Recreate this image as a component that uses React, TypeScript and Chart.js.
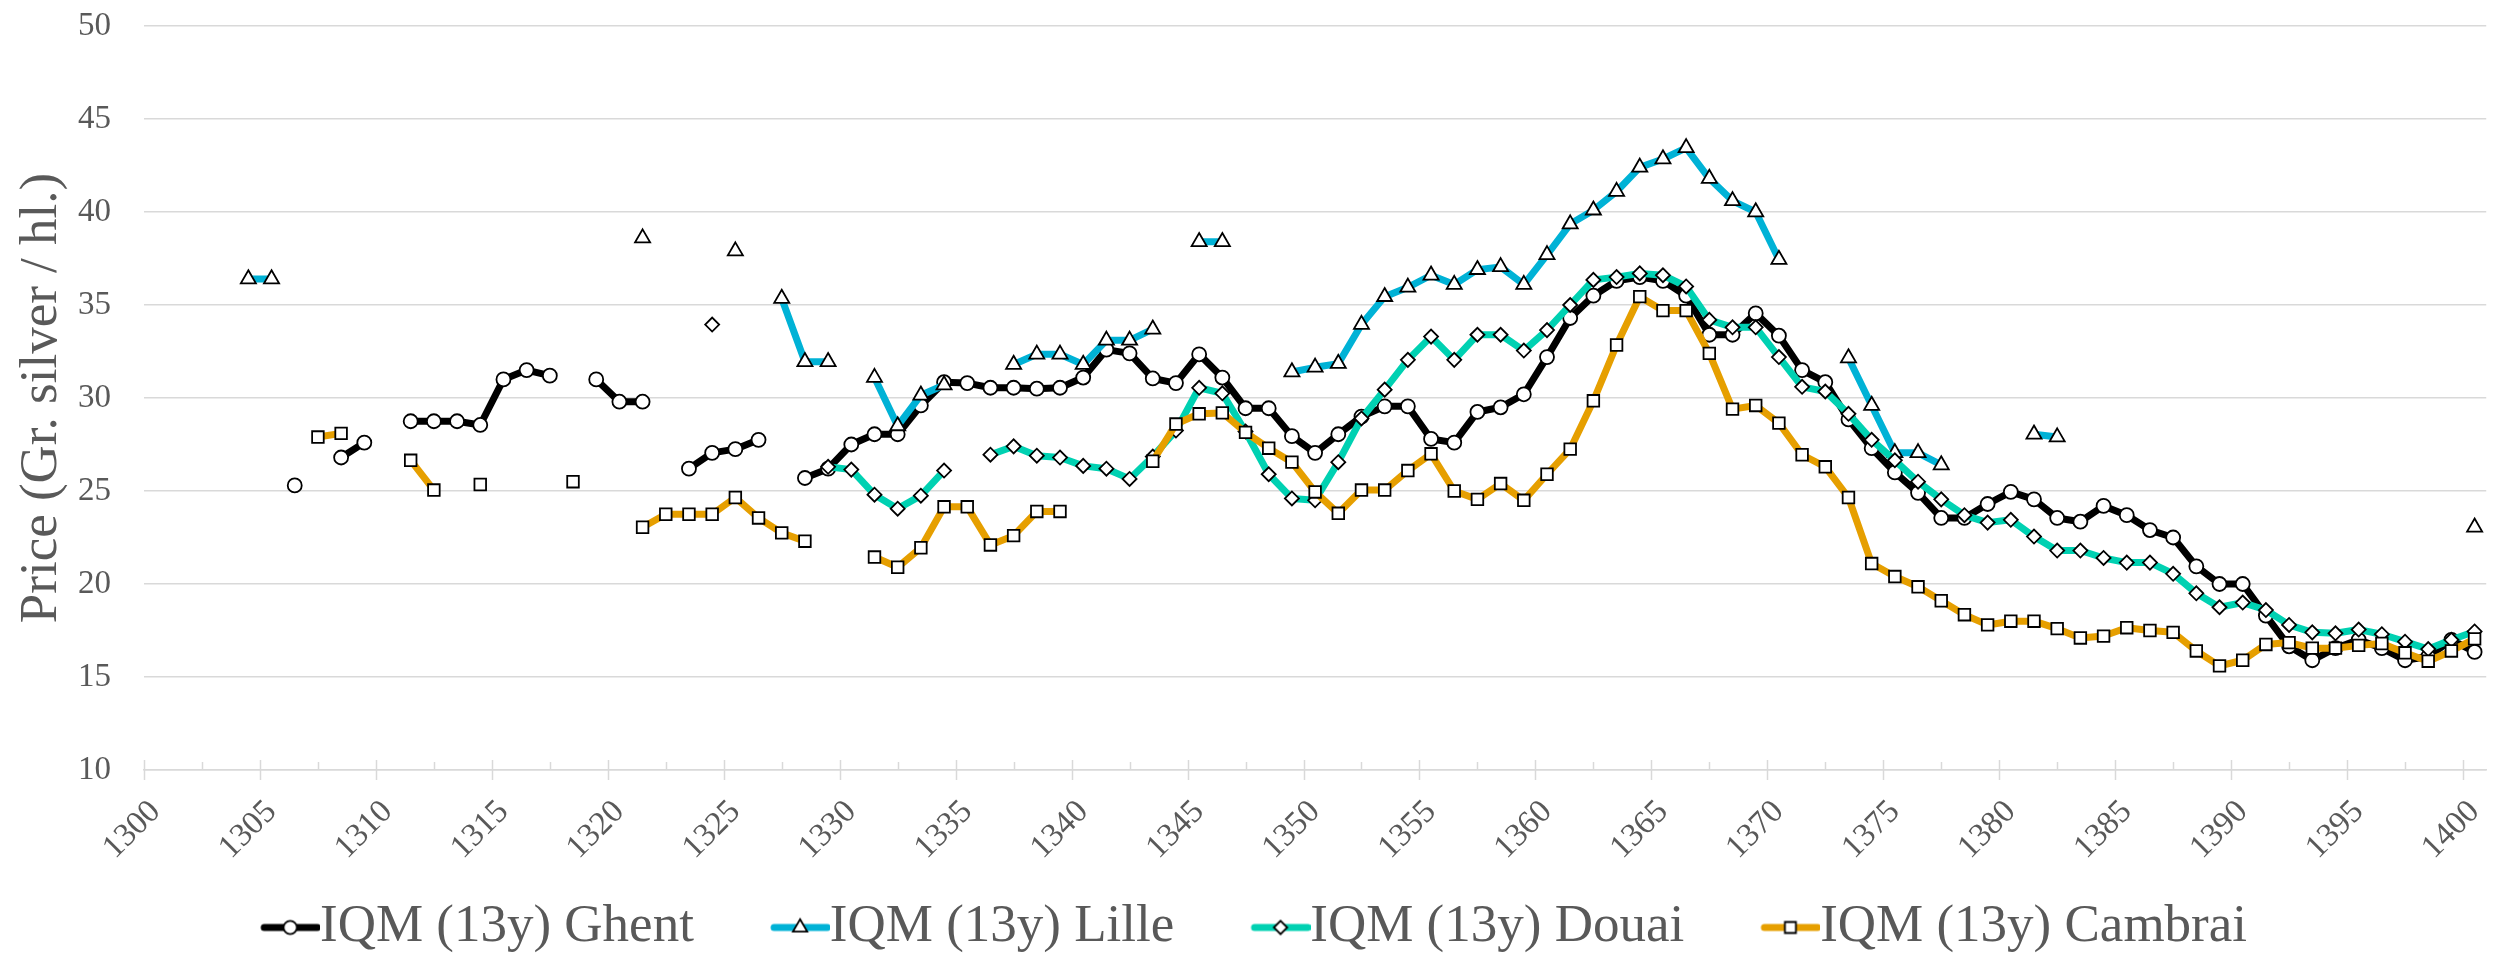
import React, { useEffect, useRef } from 'react';
import { Chart, registerables } from 'chart.js';

Chart.register(...registerables);

// ---------- data ----------
const FIRST_YEAR = 1300;
const LAST_YEAR = 1400;
const YEARS: string[] = [];
for (let y = FIRST_YEAR; y <= LAST_YEAR; y++) YEARS.push(String(y));

const Y_MIN = 10;
const Y_MAX = 50;
const Y_STEP = 5;
const Y_TITLE = 'Price (Gr. silver / hl.)';

const SERIES_NAMES = ['IQM (13y) Ghent', 'IQM (13y) Lille', 'IQM (13y) Douai', 'IQM (13y) Cambrai'];

// index 0 = 1300 ... index 100 = 1400
const GHENT: (number | null)[] = [
  null, null, null, null, null, null, 25.3, null, 26.8, 27.6,
  null, 28.75, 28.75, 28.75, 28.55, 31.0, 31.5, 31.2, null, 31.0,
  29.8, 29.8, null, 26.2, 27.05, 27.25, 27.75, null, 25.7, 26.2,
  27.5, 28.05, 28.05, 29.6, 30.85, 30.8, 30.55, 30.55, 30.5, 30.55,
  31.1, 32.6, 32.4, 31.05, 30.8, 32.35, 31.1, 29.45, 29.45, 27.95,
  27.05, 28.05, 29.0, 29.55, 29.55, 27.8, 27.6, 29.25, 29.5, 30.2,
  32.2, 34.3, 35.5, 36.3, 36.5, 36.3, 35.5, 33.4, 33.4, 34.55,
  33.35, 31.5, 30.85, 28.85, 27.3, 26.0, 24.9, 23.55, 23.55, 24.3,
  24.95, 24.55, 23.55, 23.35, 24.2, 23.7, 22.9, 22.5, 20.95, 20.0,
  20.0, 18.3, 16.65, 15.9, 16.55, 17.0, 16.55, 15.9, 16.1, 17.0,
  16.35,
];

const LILLE: (number | null)[] = [
  null, null, null, null, 36.4, 36.4, null, null, null, null,
  null, null, null, null, null, null, null, null, null, null,
  null, 38.6, null, null, null, 37.9, null, 35.35, 31.95, 31.95,
  null, 31.1, 28.5, 30.15, 30.7, null, null, 31.8, 32.35, 32.35,
  31.8, 33.1, 33.1, 33.7, null, 38.4, 38.4, null, null, 31.4,
  31.65, 31.85, 33.95, 35.45, 35.95, 36.6, 36.1, 36.9, 37.05, 36.1,
  37.7, 39.35, 40.1, 41.1, 42.4, 42.85, 43.45, 41.8, 40.6, 40.0,
  37.45, null, null, 32.15, 29.6, 27.05, 27.05, 26.4, null, null,
  null, 28.05, 27.9, null, null, null, null, null, null, null,
  null, null, null, null, null, null, null, null, null, null,
  23.05,
];

const DOUAI: (number | null)[] = [
  null, null, null, null, null, null, null, null, null, null,
  null, null, null, null, null, null, null, null, null, null,
  null, null, null, null, 33.95, null, null, null, null, 26.3,
  26.15, 24.8, 24.05, 24.75, 26.1, null, 26.95, 27.4, 26.9, 26.8,
  26.35, 26.2, 25.65, 26.85, 28.25, 30.55, 30.25, 28.2, 25.9, 24.6,
  24.5, 26.55, 28.9, 30.45, 32.05, 33.3, 32.05, 33.4, 33.4, 32.55,
  33.65, 35.0, 36.35, 36.5, 36.7, 36.6, 36.0, 34.2, 33.8, 33.8,
  32.2, 30.6, 30.35, 29.15, 27.75, 26.65, 25.5, 24.55, 23.7, 23.3,
  23.45, 22.55, 21.8, 21.8, 21.4, 21.15, 21.15, 20.55, 19.5, 18.75,
  19.0, 18.6, 17.8, 17.4, 17.35, 17.55, 17.3, 16.9, 16.5, 17.0,
  17.45,
];

const CAMBRAI: (number | null)[] = [
  null, null, null, null, null, null, null, 27.9, 28.1, null,
  null, 26.65, 25.05, null, 25.35, null, null, null, 25.5, null,
  null, 23.05, 23.75, 23.75, 23.75, 24.65, 23.55, 22.75, 22.3, null,
  null, 21.45, 20.9, 21.95, 24.15, 24.15, 22.1, 22.6, 23.9, 23.9,
  null, null, null, 26.6, 28.6, 29.15, 29.2, 28.15, 27.3, 26.55,
  24.95, 23.8, 25.05, 25.05, 26.1, 27.0, 25.0, 24.55, 25.4, 24.5,
  25.9, 27.25, 29.85, 32.85, 35.45, 34.7, 34.7, 32.4, 29.4, 29.6,
  28.65, 26.95, 26.3, 24.65, 21.1, 20.4, 19.85, 19.1, 18.35, 17.8,
  18.0, 18.0, 17.6, 17.1, 17.2, 17.65, 17.5, 17.4, 16.4, 15.6,
  15.9, 16.75, 16.85, 16.55, 16.55, 16.7, 16.8, 16.3, 15.85, 16.4,
  17.05,
];

// ---------- styles ----------
const FONT = "'Liberation Serif', 'Times New Roman', serif";
const TEXT_COLOR = '#595959';
const GRID_COLOR = '#d9d9d9';
const COLORS = ['#000000', '#00b2d6', '#00d1b2', '#e69f00'];
const MARKERS = ['circle', 'triangle', 'rectRot', 'rect'];
const MARKER_RADIUS = [7, 8.7, 7, 8.2];
const LINE_WIDTH = 7;

const LEGEND_BOX = 75.5;
const LEGEND_FONT = 53;

function drawMarker(ctx: CanvasRenderingContext2D, style: string, x: number, y: number, r: number) {
  ctx.beginPath();
  if (style === 'circle') {
    ctx.arc(x, y, r, 0, Math.PI * 2);
  } else if (style === 'triangle') {
    ctx.moveTo(x, y - r);
    ctx.lineTo(x + 0.866 * r, y + 0.5 * r);
    ctx.lineTo(x - 0.866 * r, y + 0.5 * r);
    ctx.closePath();
  } else if (style === 'rectRot') {
    ctx.moveTo(x - r, y);
    ctx.lineTo(x, y - r);
    ctx.lineTo(x + r, y);
    ctx.lineTo(x, y + r);
    ctx.closePath();
  } else {
    const h = r * Math.SQRT1_2;
    ctx.rect(x - h, y - h, 2 * h, 2 * h);
  }
  ctx.fillStyle = '#ffffff';
  ctx.fill();
  ctx.lineWidth = 1.8;
  ctx.strokeStyle = '#000000';
  ctx.stroke();
}

// icon is centred on the legend box centre; its right edge meets the text start
function makeIcon(color: string, style: string, r: number): HTMLCanvasElement {
  const W = Math.round(2 * (LEGEND_BOX / 2 + LEGEND_FONT / 2));
  const H = 26;
  const c = document.createElement('canvas');
  c.width = W;
  c.height = H;
  const ctx = c.getContext('2d') as CanvasRenderingContext2D;
  const cy = H / 2;
  const x1 = W - 60;
  ctx.strokeStyle = color;
  ctx.lineWidth = 7;
  ctx.lineCap = 'round';
  ctx.beginPath();
  ctx.moveTo(x1 + 4, cy);
  ctx.lineTo(W - 3, cy);
  ctx.stroke();
  drawMarker(ctx, style, x1 + 30, cy, r * 0.95);
  return c;
}

// Excel-style tick marks on the category axis (major crossing, minor inside)
const axisTicksPlugin = {
  id: 'excelAxisTicks',
  beforeDatasetsDraw(chart: any) {
    const xs = chart.scales.x;
    const ctx = chart.ctx as CanvasRenderingContext2D;
    const y0 = xs.top;
    const band = xs.getPixelForValue(1) - xs.getPixelForValue(0);
    ctx.save();
    ctx.strokeStyle = GRID_COLOR;
    ctx.lineWidth = 1.5;
    ctx.beginPath();
    for (let i = 0; i < YEARS.length; i += 5) {
      const x = Math.round(xs.getPixelForValue(i) - band / 2) + 0.5;
      ctx.moveTo(x, y0 - 10);
      ctx.lineTo(x, y0 + 10);
    }
    for (let i = 2; i < YEARS.length; i += 5) {
      const x = Math.round(xs.getPixelForValue(i)) + 0.5;
      ctx.moveTo(x, y0 - 8);
      ctx.lineTo(x, y0);
    }
    ctx.stroke();
    ctx.restore();
  },
};

export default function App() {
  const canvasRef = useRef<HTMLCanvasElement | null>(null);

  useEffect(() => {
    document.body.style.margin = '0';
    document.body.style.overflow = 'hidden';
    const canvas = canvasRef.current;
    if (!canvas) return;

    const seriesData = [GHENT, LILLE, DOUAI, CAMBRAI];
    const icons = SERIES_NAMES.map((_, i) => makeIcon(COLORS[i], MARKERS[i], MARKER_RADIUS[i]));

    const datasets = SERIES_NAMES.map((name, i) => ({
      label: name,
      data: seriesData[i],
      borderColor: COLORS[i],
      backgroundColor: COLORS[i],
      borderWidth: LINE_WIDTH,
      borderJoinStyle: 'round' as const,
      borderCapStyle: 'round' as const,
      pointStyle: MARKERS[i] as any,
      pointRadius: MARKER_RADIUS[i],
      pointBackgroundColor: '#ffffff',
      pointBorderColor: '#000000',
      pointBorderWidth: 1.8,
      spanGaps: false,
      tension: 0,
      order: SERIES_NAMES.length - i,
    }));

    const chart = new Chart(canvas, {
      type: 'line',
      data: { labels: YEARS, datasets },
      plugins: [axisTicksPlugin],
      options: {
        responsive: false,
        animation: false,
        events: [],
        layout: { padding: { left: -22, right: 11, top: 26, bottom: -8 } },
        plugins: {
          tooltip: { enabled: false },
          legend: {
            display: true,
            position: 'bottom',
            align: 'center',
            labels: {
              usePointStyle: true,
              pointStyleWidth: LEGEND_BOX,
              padding: 34,
              color: TEXT_COLOR,
              font: { family: FONT, size: LEGEND_FONT },
              generateLabels: () =>
                SERIES_NAMES.map((name, i) => ({
                  text: name,
                  pointStyle: icons[i] as any,
                  fillStyle: 'transparent',
                  strokeStyle: 'transparent',
                  lineWidth: 0,
                  fontColor: TEXT_COLOR,
                  hidden: false,
                  datasetIndex: i,
                })),
            },
          },
        },
        scales: {
          x: {
            type: 'category',
            offset: true,
            grid: {
              display: true,
              drawOnChartArea: false,
              drawTicks: true,
              tickLength: 25,
              color: 'rgba(0,0,0,0)',
              tickColor: 'rgba(0,0,0,0)',
              offset: true,
            },
            border: { display: true, color: GRID_COLOR, width: 1.5 },
            ticks: {
              autoSkip: false,
              minRotation: 45,
              maxRotation: 45,
              padding: 0,
              color: TEXT_COLOR,
              font: { family: FONT, size: 33, lineHeight: 1 },
              callback: function (this: any, value: any, index: number) {
                return index % 5 === 0 ? YEARS[index] : '';
              },
            },
            afterFit: (scale: any) => {
              scale.height = 97;
            },
          },
          y: {
            min: Y_MIN,
            max: Y_MAX,
            grid: {
              color: GRID_COLOR,
              lineWidth: 1.5,
              drawTicks: true,
              tickLength: 33,
              tickColor: 'rgba(0,0,0,0)',
            },
            border: { display: false },
            ticks: {
              stepSize: Y_STEP,
              padding: 0,
              color: TEXT_COLOR,
              font: { family: FONT, size: 33 },
            },
            title: {
              display: true,
              text: Y_TITLE,
              color: TEXT_COLOR,
              font: { family: FONT, size: 53 },
              padding: { top: 32, bottom: 0 },
            },
            afterFit: (scale: any) => {
              scale.width = 166;
            },
          },
        },
      },
    });

    return () => {
      chart.destroy();
    };
  }, []);

  return (
    <div style={{ position: 'fixed', left: 0, top: 0, width: 2498, height: 956, background: '#ffffff' }}>
      <canvas ref={canvasRef} width={2498} height={956} style={{ width: 2498, height: 956, display: 'block' }} />
    </div>
  );
}
